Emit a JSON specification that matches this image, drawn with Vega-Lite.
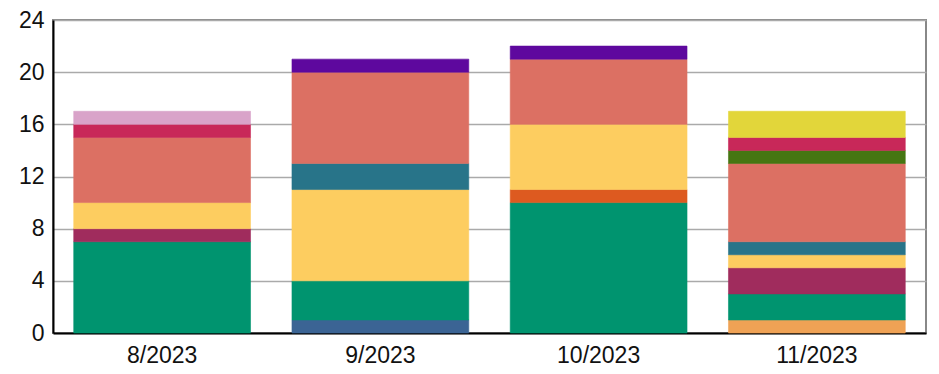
{
  "$schema": "https://vega.github.io/schema/vega-lite/v6.json",
  "autosize": {"type": "none"},
  "padding": {"left": 53, "top": 20, "right": 13, "bottom": 41},
  "width": 873,
  "height": 313,
  "background": "white",
  "config": {
    "font": "Liberation Sans",
    "view": {"stroke": "#888888", "strokeWidth": 2}
  },
  "data": {
    "values": [
      {"month": "8/2023", "series": "s03", "value": 7},
      {"month": "8/2023", "series": "s04", "value": 1},
      {"month": "8/2023", "series": "s06", "value": 2},
      {"month": "8/2023", "series": "s08", "value": 5},
      {"month": "8/2023", "series": "s10", "value": 1},
      {"month": "8/2023", "series": "s11", "value": 1},
      {"month": "9/2023", "series": "s02", "value": 1},
      {"month": "9/2023", "series": "s03", "value": 3},
      {"month": "9/2023", "series": "s06", "value": 7},
      {"month": "9/2023", "series": "s07", "value": 2},
      {"month": "9/2023", "series": "s08", "value": 7},
      {"month": "9/2023", "series": "s13", "value": 1},
      {"month": "10/2023", "series": "s03", "value": 10},
      {"month": "10/2023", "series": "s05", "value": 1},
      {"month": "10/2023", "series": "s06", "value": 5},
      {"month": "10/2023", "series": "s08", "value": 5},
      {"month": "10/2023", "series": "s13", "value": 1},
      {"month": "11/2023", "series": "s01", "value": 1},
      {"month": "11/2023", "series": "s03", "value": 2},
      {"month": "11/2023", "series": "s04", "value": 2},
      {"month": "11/2023", "series": "s06", "value": 1},
      {"month": "11/2023", "series": "s07", "value": 1},
      {"month": "11/2023", "series": "s08", "value": 6},
      {"month": "11/2023", "series": "s09", "value": 1},
      {"month": "11/2023", "series": "s10", "value": 1},
      {"month": "11/2023", "series": "s12", "value": 2}
    ]
  },
  "mark": {"type": "bar", "strokeWidth": 0.6},
  "encoding": {
    "x": {
      "field": "month",
      "type": "nominal",
      "sort": ["8/2023", "9/2023", "10/2023", "11/2023"],
      "scale": {"paddingInner": 0.19, "paddingOuter": 0.095},
      "axis": {
        "title": null,
        "labelAngle": 0,
        "labelFontSize": 23,
        "labelColor": "#111111",
        "labelPadding": 11,
        "ticks": false,
        "domainColor": "#000000",
        "domainWidth": 2,
        "grid": false
      }
    },
    "y": {
      "field": "value",
      "type": "quantitative",
      "aggregate": "sum",
      "stack": "zero",
      "scale": {"domain": [0, 24], "nice": false},
      "axis": {
        "title": null,
        "values": [0, 4, 8, 12, 16, 20, 24],
        "labelFontSize": 23,
        "labelColor": "#111111",
        "labelPadding": 9,
        "ticks": false,
        "domainColor": "#000000",
        "domainWidth": 2,
        "gridColor": "#aaaaaa",
        "gridWidth": 1.5,
        "gridOpacity": 1
      }
    },
    "color": {
      "field": "series",
      "type": "nominal",
      "legend": null,
      "scale": {
        "domain": ["s01", "s02", "s03", "s04", "s05", "s06", "s07", "s08", "s09", "s10", "s11", "s12", "s13"],
        "range": ["#efa255", "#3b6494", "#00946f", "#a02c5d", "#dd5a20", "#fdcd60", "#287489", "#dc7063", "#467612", "#c82859", "#d9a3c9", "#e2d63a", "#5e089e"]
      }
    },
    "stroke": {
      "field": "series",
      "type": "nominal",
      "legend": null,
      "scale": {
        "domain": ["s01", "s02", "s03", "s04", "s05", "s06", "s07", "s08", "s09", "s10", "s11", "s12", "s13"],
        "range": ["#efa255", "#3b6494", "#00946f", "#a02c5d", "#dd5a20", "#fdcd60", "#287489", "#dc7063", "#467612", "#c82859", "#d9a3c9", "#e2d63a", "#5e089e"]
      }
    },
    "order": {"field": "series", "sort": "ascending"}
  }
}
